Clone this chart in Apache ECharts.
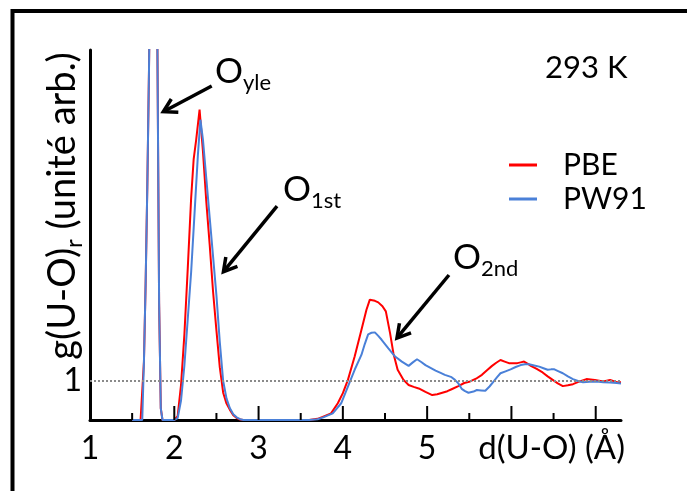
<!DOCTYPE html>
<html><head><meta charset="utf-8">
<script src="https://cdn.jsdelivr.net/npm/echarts@6/dist/echarts.min.js"></script>
<style>html,body{margin:0;padding:0;background:#fff}#c{width:687px;height:491px}</style>
</head><body><div id="c"></div>
<script>
// ---------- data ----------
const seriesNames = ['PBE', 'PW91'];
const pbeR = [1.50,1.60,1.62,1.64,1.66,1.68,1.70,1.72,1.74,1.76,1.78,1.80,1.82,1.84,1.86,2.00,2.04,2.08,2.12,2.16,2.20,2.23,2.26,2.30,2.34,2.38,2.42,2.46,2.50,2.54,2.58,2.62,2.66,2.70,2.74,2.78,2.82,3.20,3.60,3.70,3.76,3.86,3.94,4.00,4.06,4.14,4.22,4.28,4.32,4.38,4.42,4.47,4.51,4.56,4.60,4.65,4.72,4.78,4.84,4.90,4.98,5.06,5.12,5.18,5.24,5.29,5.37,5.44,5.51,5.58,5.65,5.71,5.77,5.82,5.87,5.92,5.97,6.02,6.07,6.11,6.15,6.19,6.23,6.30,6.37,6.43,6.49,6.55,6.61,6.67,6.73,6.81,6.89,6.99,7.09,7.17,7.25,7.30];
const pbeG = [0,0,0,1.5,3.5,6,9,13,16,17,14,9.5,3,0.3,0,0,0.1,0.9,2.2,3.9,5.7,6.7,7.2,7.97,6.9,5.6,4.5,3.3,2.3,1.35,0.7,0.42,0.26,0.12,0.05,0.01,0,0,0,0.03,0.08,0.17,0.43,0.69,1.03,1.63,2.31,2.83,3.09,3.06,3.02,2.92,2.79,2.23,1.71,1.29,1.03,0.90,0.85,0.81,0.72,0.64,0.66,0.70,0.74,0.79,0.87,0.95,0.99,1.06,1.16,1.28,1.39,1.47,1.54,1.50,1.46,1.46,1.46,1.48,1.50,1.45,1.39,1.31,1.22,1.12,1.03,0.94,0.87,0.89,0.92,0.99,1.05,1.03,0.99,1.03,0.97,0.97];
const pw91R = [1.50,1.62,1.64,1.66,1.68,1.70,1.72,1.74,1.76,1.78,1.80,1.82,1.84,1.86,2.00,2.04,2.08,2.12,2.16,2.20,2.24,2.28,2.31,2.34,2.38,2.42,2.46,2.50,2.54,2.58,2.62,2.66,2.70,2.74,2.78,2.82,3.20,3.60,3.70,3.76,3.88,3.98,4.06,4.14,4.22,4.26,4.30,4.34,4.38,4.42,4.46,4.54,4.62,4.70,4.78,4.83,4.88,4.93,4.98,5.04,5.10,5.16,5.21,5.29,5.33,5.37,5.41,5.45,5.49,5.51,5.55,5.59,5.64,5.69,5.74,5.79,5.83,5.87,5.93,5.99,6.05,6.11,6.16,6.21,6.27,6.33,6.38,6.43,6.47,6.51,6.56,6.61,6.67,6.73,6.79,6.85,6.93,7.01,7.09,7.17,7.25,7.30];
const pw91G = [0,0,1.5,3.5,6,9,13,16,17,14,9.5,3,0.3,0,0,0.05,0.5,1.4,2.6,3.8,5.3,6.8,7.71,7.2,6.2,5.2,4.2,3.2,2.0,1.0,0.55,0.3,0.15,0.07,0.02,0,0,0,0.02,0.06,0.17,0.43,0.86,1.29,1.67,1.95,2.20,2.24,2.25,2.16,2.06,1.84,1.63,1.50,1.39,1.48,1.56,1.49,1.41,1.34,1.27,1.21,1.16,1.10,1.03,0.94,0.80,0.74,0.70,0.67,0.73,0.77,0.76,0.75,0.86,0.99,1.10,1.20,1.25,1.30,1.36,1.41,1.43,1.43,1.40,1.37,1.33,1.29,1.30,1.30,1.25,1.20,1.12,1.05,1.00,0.97,0.98,0.99,0.97,0.96,0.95,0.94];
const xLabelValues = [1, 2, 3, 4, 5];
const xLabelTexts = ['1', '2', '3', '4', '5'];
const xMajorTicks = [2, 3, 4, 5, 6, 7];
const xMinorTicks = [1.5, 2.5, 3.5, 4.5, 5.5, 6.5];
const yLabelValues = [1];
const yLabelTexts = ['1'];
const referenceLevel = 1;
const xTitle = 'd(U-O) (Å)';
const yTitleMain = 'g(U-O)';
const yTitleSub = 'r';
const yTitleTail = ' (unité arb.)';
const tempText = '293 K';
const peakMain = ['O', 'O', 'O'];
const peakSub = ['yle', '1st', '2nd'];
// annotation anchors in data space (label baseline-left, arrow start, arrow tip)
const peakLabelAt = [[2.483, 8.60], [3.290, 5.57], [5.307, 3.825]];
const arrowFrom = [[2.444, 8.575], [3.219, 5.494], [5.259, 3.723]];
const arrowTo = [[1.870, 7.915], [2.583, 3.807], [4.642, 2.105]];

// ---------- chart ----------
const X_MIN = 1, X_MAX = 7.3, Y_MIN = 0, Y_MAX = 9.5;
const MAJOR_LEN = 14, MINOR_LEN = 7;
const FONT = 'Lato, "Liberation Sans", sans-serif';
const MAINFS = 35, SUBFS = 22, YT_FS = 38, YT_SUBFS = 24;
const zip = (a, b) => a.map((v, i) => [v, b[i]]);
const mctx = document.createElement('canvas').getContext('2d');
const textW = (t, fs) => { mctx.font = fs + 'px ' + FONT; return mctx.measureText(t).width; };
const chart = echarts.init(document.getElementById('c'), null, {renderer: 'canvas'});
const iconPath = 'path://M0,0L28,0L28,3L0,3ZM49,0L49,3';
const txt = (t, x, y, fs, align) => ({type: 'text', x: x, y: y,
  style: {text: t, fontSize: fs, fontFamily: FONT, fill: '#000', align: align || 'left', verticalAlign: 'middle'}});

// tick marks, placed through the x scale
const tickSeries = (name, values, len) => ({
  name: name, type: 'custom', silent: true, clip: false, z: 6,
  data: values.map(v => [v, Y_MIN]), encode: {x: 0, y: 1},
  renderItem: (params, api) => {
    const p = api.coord([api.value(0), Y_MIN]);
    return {type: 'rect', shape: {x: p[0] - 1, y: p[1] - len, width: 2, height: len}, style: {fill: '#000'}};
  }
});

// peak labels with arrows, placed through the scales
const annotationSeries = {
  name: 'peaks', type: 'custom', silent: true, clip: false, z: 7,
  data: peakLabelAt.map(p => [p[0], p[1]]), encode: {x: 0, y: 1},
  renderItem: (params, api) => {
    const i = params.dataIndex;
    const p = api.coord(peakLabelAt[i]);
    const a = api.coord(arrowFrom[i]), b = api.coord(arrowTo[i]);
    const dx = b[0] - a[0], dy = b[1] - a[1], len = Math.hypot(dx, dy);
    const ux = dx / len, uy = dy / len, L = 15, th = Math.PI / 6;
    const w1 = [b[0] - L * (ux * Math.cos(th) - uy * Math.sin(th)), b[1] - L * (uy * Math.cos(th) + ux * Math.sin(th))];
    const w2 = [b[0] - L * (ux * Math.cos(-th) - uy * Math.sin(-th)), b[1] - L * (uy * Math.cos(-th) + ux * Math.sin(-th))];
    const oW = textW(peakMain[i], MAINFS);
    return {type: 'group', children: [
      txt(peakMain[i], p[0], p[1] - 0.387 * MAINFS, MAINFS),
      txt(peakSub[i], p[0] + oW, p[1] + 6 - 0.387 * SUBFS, SUBFS),
      {type: 'line', shape: {x1: a[0], y1: a[1], x2: b[0] - ux * 2, y2: b[1] - uy * 2}, style: {stroke: '#000', lineWidth: 3.5}},
      {type: 'polyline', shape: {points: [w1, b, w2]}, style: {stroke: '#000', lineWidth: 3.5, fill: null, lineJoin: 'miter'}}
    ]};
  }
};

// frame, temperature, axis titles
const decorSeries = {
  name: 'decor', type: 'custom', silent: true, clip: false, z: 8,
  data: [[X_MAX, Y_MIN]], encode: {x: 0, y: 1},
  renderItem: (params, api) => {
    const e = api.coord([X_MAX, Y_MIN]);
    const wm = textW(yTitleMain, YT_FS), ws = textW(yTitleSub, YT_SUBFS), wt = textW(yTitleTail, YT_FS);
    const x0 = -(wm + ws + wt) / 2;
    return {type: 'group', children: [
      {type: 'rect', shape: {x: 12.5, y: 11, width: 720, height: 520}, style: {fill: null, stroke: '#000', lineWidth: 4}},
      txt(tempText, 545, 67.5, 31),
      txt(xTitle, e[0] + 4, e[1] + 28, 33, 'right'),
      {type: 'group', x: 63, y: 206, rotation: Math.PI / 2, children: [
        txt(yTitleMain, x0, 0, YT_FS),
        txt(yTitleSub, x0 + wm, 0.387 * YT_FS + 6 - 0.387 * YT_SUBFS, YT_SUBFS),
        txt(yTitleTail, x0 + wm + ws, 0, YT_FS)
      ]}
    ]};
  }
};

const option = {
  animation: false,
  backgroundColor: '#fff',
  grid: {left: 90, right: 66, top: 50, bottom: 71, containLabel: false},
  legend: {
    orient: 'vertical', left: 504, top: 143, itemWidth: 49, itemHeight: 3, itemGap: 0,
    textStyle: {fontSize: 30, fontFamily: FONT, color: '#000', lineHeight: 34},
    data: [{name: seriesNames[0], icon: iconPath}, {name: seriesNames[1], icon: iconPath}]
  },
  xAxis: {
    type: 'value', min: X_MIN, max: X_MAX, position: 'bottom',
    axisLine: {onZero: false, lineStyle: {color: '#000', width: 3}},
    axisTick: {show: false},
    axisLabel: {customValues: xLabelValues, margin: 13, fontSize: 32, fontFamily: FONT, color: '#000',
      formatter: v => { const i = xLabelValues.indexOf(v); return i >= 0 ? xLabelTexts[i] : ''; }},
    splitLine: {show: false}
  },
  yAxis: {
    type: 'value', min: Y_MIN, max: Y_MAX, position: 'left',
    axisLine: {show: true, lineStyle: {color: '#000', width: 3}},
    axisTick: {show: false},
    axisLabel: {customValues: yLabelValues, margin: 8, fontSize: 32, fontFamily: FONT, color: '#000',
      formatter: v => { const i = yLabelValues.indexOf(v); return i >= 0 ? yLabelTexts[i] : ''; }},
    splitLine: {show: false}
  },
  series: [{
    name: seriesNames[0], type: 'line', data: zip(pbeR, pbeG), showSymbol: false, symbol: 'none',
    color: '#ff0000', lineStyle: {width: 2, color: '#ff0000'}, clip: true, z: 3,
    markLine: {silent: true, symbol: 'none', label: {show: false},
      lineStyle: {type: 'dotted', color: '#8a8a8a', width: 2}, data: [{yAxis: referenceLevel}]}
  }, {
    name: seriesNames[1], type: 'line', data: zip(pw91R, pw91G), showSymbol: false, symbol: 'none',
    color: '#4a80d8', lineStyle: {width: 2, color: '#4a80d8'}, clip: true, z: 4
  },
  tickSeries('majorTicks', xMajorTicks, MAJOR_LEN),
  tickSeries('minorTicks', xMinorTicks, MINOR_LEN),
  annotationSeries,
  decorSeries]
};
chart.setOption(option);
</script></body></html>
